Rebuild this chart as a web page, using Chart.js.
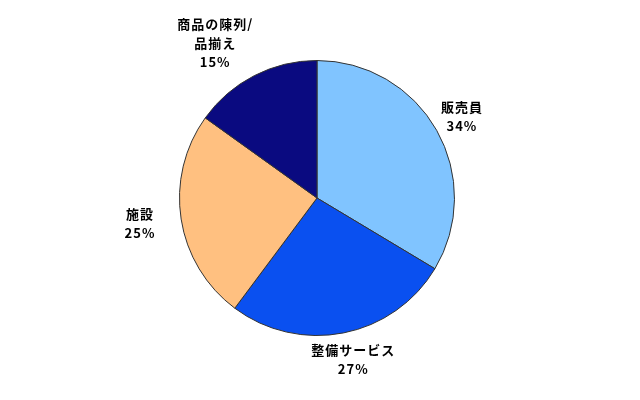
<!DOCTYPE html>
<html lang="ja">
<head>
  <meta charset="UTF-8">
  <title>Pie</title>
  <script src="https://cdn.jsdelivr.net/npm/chart.js"></script>
  <style>
    html, body { margin: 0; padding: 0; background: #fff; }
    #wrap { width: 640px; height: 400px; }
  </style>
</head>
<body>
  <div id="wrap"><canvas id="pie" width="640" height="400"></canvas></div>
  <script>
    // カテゴリと値
    const categories = [['販売員'], ['整備サービス'], ['施設'], ['商品の陳列/', '品揃え']];
    const shares = [33.6, 26.6, 24.7, 15.1];
    const sliceColors = ['#80C4FF', '#0A50F0', '#FFC080', '#0A0A80'];

    // 外側ラベルを描くプラグイン
    const outerLabels = {
      id: 'outerLabels',
      afterDatasetsDraw(chart) {
        const ctx = chart.ctx;
        const meta = chart.getDatasetMeta(0);
        const total = shares.reduce((a, b) => a + b, 0);
        const lineH = 19;
        ctx.save();
        ctx.font = 'bold 13px "Noto Sans CJK JP", sans-serif';
        ctx.letterSpacing = '1px';
        ctx.fillStyle = '#000';
        ctx.textAlign = 'center';
        ctx.textBaseline = 'middle';
        meta.data.forEach((arc, i) => {
          const mid = (arc.startAngle + arc.endAngle) / 2;
          const cos = Math.cos(mid), sin = Math.sin(mid);
          const lines = categories[i].concat([Math.round(shares[i] / total * 100) + '%']);
          const w = Math.max(...lines.map(t => ctx.measureText(t).width));
          const h = lines.length * lineH;
          const r = arc.outerRadius + 8;
          let cx = arc.x + cos * (r + w / 2);
          const cy = arc.y + sin * (r + h / 2);
          if (cos < 0) cx -= 18;
          lines.forEach((t, j) => {
            ctx.fillText(t, cx, cy - h / 2 + lineH / 2 + j * lineH);
          });
        });
        ctx.restore();
      }
    };

    new Chart(document.getElementById('pie').getContext('2d'), {
      type: 'pie',
      data: {
        labels: categories.map(c => c.join('')),
        datasets: [{
          data: shares,
          backgroundColor: sliceColors,
          borderColor: '#333',
          borderWidth: 1
        }]
      },
      options: {
        responsive: false,
        animation: false,
        layout: { padding: { top: 60, bottom: 64, left: 0, right: 6 } },
        plugins: {
          legend: { display: false },
          tooltip: { enabled: false }
        }
      },
      plugins: [outerLabels]
    });
  </script>
</body>
</html>
